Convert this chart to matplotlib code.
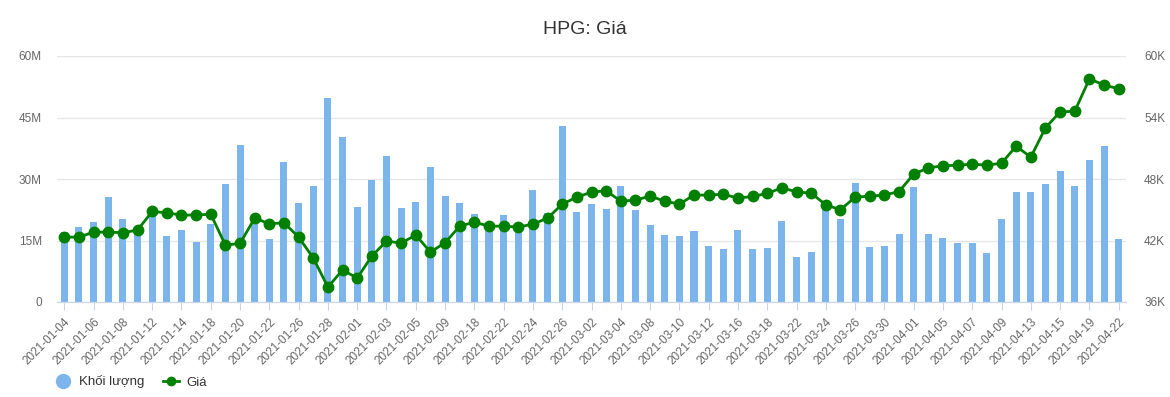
#HPG 成交量 + 价格 双轴图

import numpy as np
import matplotlib
matplotlib.use("Agg")
import matplotlib.pyplot as plt
from matplotlib.lines import Line2D
from matplotlib.ticker import FuncFormatter, MultipleLocator

plt.rcParams['font.family'] = ['Liberation Sans', 'DejaVu Sans']

#数据
dates = ["2021-01-04","2021-01-05","2021-01-06","2021-01-07","2021-01-08","2021-01-11","2021-01-12",
         "2021-01-13","2021-01-14","2021-01-15","2021-01-18","2021-01-19","2021-01-20","2021-01-21",
         "2021-01-22","2021-01-25","2021-01-26","2021-01-27","2021-01-28","2021-01-29","2021-02-01",
         "2021-02-02","2021-02-03","2021-02-04","2021-02-05","2021-02-08","2021-02-09","2021-02-17",
         "2021-02-18","2021-02-19","2021-02-22","2021-02-23","2021-02-24","2021-02-25","2021-02-26",
         "2021-03-01","2021-03-02","2021-03-03","2021-03-04","2021-03-05","2021-03-08","2021-03-09",
         "2021-03-10","2021-03-11","2021-03-12","2021-03-15","2021-03-16","2021-03-17","2021-03-18",
         "2021-03-19","2021-03-22","2021-03-23","2021-03-24","2021-03-25","2021-03-26","2021-03-29",
         "2021-03-30","2021-03-31","2021-04-01","2021-04-02","2021-04-05","2021-04-06","2021-04-07",
         "2021-04-08","2021-04-09","2021-04-12","2021-04-13","2021-04-14","2021-04-15","2021-04-16",
         "2021-04-19","2021-04-20","2021-04-22"]

#成交量 (百万)
volume_m = [17.0, 18.3, 19.5, 25.6, 20.2, 16.3, 21.6, 16.1, 17.5, 14.6, 19.0, 28.7, 38.2, 20.5,
            15.3, 34.1, 24.1, 28.2, 49.7, 40.2, 23.1, 29.7, 35.6, 22.9, 24.4, 32.9, 25.8, 24.1,
            21.4, 17.3, 21.2, 18.0, 27.3, 21.7, 42.9, 21.9, 23.9, 22.6, 28.2, 22.4, 18.75, 16.3,
            16.1, 17.3, 13.6, 12.9, 17.5, 12.9, 13.1, 19.7, 11.0, 12.2, 23.3, 20.2, 29.0, 13.4,
            13.6, 16.6, 28.0, 16.6, 15.6, 14.4, 14.4, 11.9, 20.2, 26.8, 26.8, 28.7, 31.9, 28.2,
            34.6, 38.0, 15.3]

#价格 (千)
price_k = [42.33, 42.33, 42.82, 42.82, 42.76, 43.02, 44.83, 44.70, 44.48, 44.48, 44.57, 41.55,
           41.72, 44.18, 43.63, 43.73, 42.33, 40.29, 37.46, 39.12, 38.34, 40.48, 41.94, 41.75,
           42.53, 40.87, 41.78, 43.40, 43.79, 43.40, 43.40, 43.31, 43.60, 44.18, 45.55, 46.23,
           46.72, 46.85, 45.84, 45.94, 46.33, 45.84, 45.55, 46.43, 46.43, 46.52, 46.13, 46.30,
           46.59, 47.14, 46.75, 46.62, 45.48, 45.00, 46.23, 46.33, 46.43, 46.78, 48.47, 49.09,
           49.28, 49.35, 49.45, 49.35, 49.54, 51.20, 50.13, 52.99, 54.55, 54.61, 57.76, 57.18,
           56.79]

bar_color = "#7cb5ec"
line_color = "#008000"
grid_color = "#e6e6e6"
axis_color = "#ccd6eb"
label_color = "#666666"

x = np.arange(len(dates))

fig = plt.figure(figsize=(11.7, 3.97), dpi=100)
ax = fig.add_axes([57/1170, 1-302/397, (1126-57)/1170, (302-56)/397])
ax2 = ax.twinx()

#柱状图
ax.bar(x, volume_m, width=0.48, color=bar_color, zorder=2)
ax.set_ylim(0, 60)
ax.yaxis.set_major_locator(MultipleLocator(15))
ax.yaxis.set_major_formatter(FuncFormatter(lambda v, p: "0" if v == 0 else "{:.0f}M".format(v)))
ax.set_xlim(-0.5, len(dates)-0.5)
ax.grid(axis='y', color=grid_color, lw=1, zorder=0)
ax.set_axisbelow(True)

#折线
ax2.plot(x, price_k, color=line_color, lw=2, marker='o', markersize=7.5, zorder=3)
ax2.set_ylim(36, 60)
ax2.yaxis.set_major_locator(MultipleLocator(6))
ax2.yaxis.set_major_formatter(FuncFormatter(lambda v, p: "{:.0f}K".format(v)))

for a in (ax, ax2):
    for s in ['top', 'left', 'right']:
        a.spines[s].set_visible(False)
    a.spines['bottom'].set_color(axis_color)
ax.tick_params(axis='y', length=0, pad=11, labelcolor=label_color, labelsize=8.5)
ax2.tick_params(axis='y', length=0, pad=13, labelcolor=label_color, labelsize=8.5)

#x 轴每隔一个标签
ax.set_xticks(x[::2])
ax.set_xticklabels(dates[::2], rotation=45, ha='right', rotation_mode='anchor')
ax.tick_params(axis='x', length=6, color=axis_color, pad=4, labelcolor=label_color, labelsize=8.5)

fig.text(0.5, 1-30/397, "HPG: Giá", ha='center', va='center', fontsize=14, color="#333333")

#图例
handles = [Line2D([], [], ls='none', marker='o', markersize=10, color=bar_color),
           Line2D([], [], color=line_color, lw=2, marker='o', markersize=6)]
fig.legend(handles, ["Khối lượng", "Giá"], loc='center left', bbox_to_anchor=(0.037, 1-382/397),
           ncol=2, frameon=False, fontsize=9.5, labelcolor="#333333", handlelength=1.2,
           handletextpad=0.6, columnspacing=1.4)

fig.savefig("out.png", dpi=100)
